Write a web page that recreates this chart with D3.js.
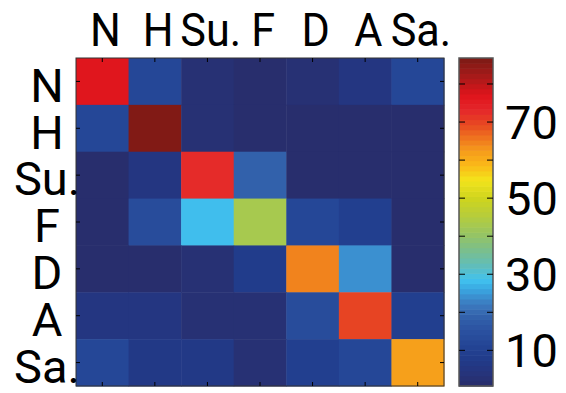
<!DOCTYPE html>
<html>
<head>
<meta charset="utf-8">
<script src="https://cdn.jsdelivr.net/npm/d3@7"></script>
<style>
  html, body { margin: 0; padding: 0; background: #fff; }
  svg { display: block; }
  .lbl { font-family: Roboto, "Open Sans", sans-serif; fill: #000; }
</style>
</head>
<body>
<svg id="chart" width="566" height="393"></svg>
<script>
// Emotion classes (rows = true class, columns = predicted class)
const classes = ["N", "H", "Su.", "F", "D", "A", "Sa."];

// Confusion matrix values (%), one array per true class
const rowN  = [77.2, 12.0,  3.0,  1.5,  2.5,  5.5, 11.5];
const rowH  = [12.0, 86.7,  2.0,  1.0,  1.0,  0.5,  0.5];
const rowSu = [ 0.8,  5.0, 73.0, 18.6,  0.8,  0.8,  1.2];
const rowF  = [ 0.5, 12.8, 28.5, 43.0, 12.5,  9.0,  1.0];
const rowD  = [ 0.5,  0.5,  2.5,  8.5, 64.5, 23.5,  1.0];
const rowA  = [ 5.5,  5.5,  3.0,  3.0, 13.0, 69.5,  9.0];
const rowSa = [12.5,  6.0,  6.0,  3.0,  9.5, 12.5, 62.0];
const matrix = [rowN, rowH, rowSu, rowF, rowD, rowA, rowSa];

// Colour bar ticks and labels
const barTicks = [10, 20, 30, 40, 50, 60, 70, 80];
const barLabels = [10, 30, 50, 70];

// Jet-style colour ramp (position along the map, colour)
const rampPos = [0, 0.036, 0.081, 0.127, 0.173, 0.209, 0.234, 0.264, 0.294, 0.325,
                 0.371, 0.416, 0.462, 0.522, 0.571, 0.629, 0.675, 0.720, 0.751,
                 0.797, 0.842, 0.888, 0.934, 1];
const rampCol = ["#282c6a", "#26337a", "#213b8a", "#244595", "#2c53a2", "#3160aa",
                 "#3a6fb6", "#3b86c8", "#3aa5e0", "#41c2ef", "#63bdb6", "#7bbf8b",
                 "#96c464", "#b7cd3a", "#cdd41f", "#f3e41b", "#fbb819", "#f59a1b",
                 "#f07a1e", "#e84a22", "#e4262a", "#e0141b", "#b01a1a", "#7b1a14"];

const svg = d3.select("#chart");
const box = { x0: 76, x1: 444, y0: 58, y1: 386 };
const bar = { x0: 459, x1: 493 };

const cells = [];
matrix.forEach((row, i) => row.forEach((v, j) => cells.push({ r: classes[i], c: classes[j], v })));
const extent = d3.extent(cells, d => d.v);

// 64-level colour map across the data range
const ramp = d3.scaleLinear().domain(rampPos).range(rampCol).interpolate(d3.interpolateRgb);
const levels = d3.range(64).map(k => ramp((k + 0.5) / 64));
const color = d3.scaleQuantize().domain(extent).range(levels);

const x = d3.scaleBand().domain(classes).range([box.x0, box.x1]);
const y = d3.scaleBand().domain(classes).range([box.y0, box.y1]);

// Matrix cells
svg.append("g").selectAll("rect").data(cells).join("rect")
  .attr("x", d => x(d.c)).attr("y", d => y(d.r))
  .attr("width", x.bandwidth() + 0.5).attr("height", y.bandwidth() + 0.5)
  .attr("fill", d => color(d.v));

svg.append("rect")
  .attr("x", box.x0).attr("y", box.y0)
  .attr("width", box.x1 - box.x0).attr("height", box.y1 - box.y0)
  .attr("fill", "none").attr("stroke", "#333").attr("stroke-width", 1);

function styleAxis(g) {
  g.select(".domain").remove();
  g.selectAll(".tick line").attr("stroke", "#000").attr("stroke-width", 1);
}

// Top axis with class labels (slightly condensed)
const topAxis = svg.append("g").attr("transform", `translate(0,${box.y0})`)
  .call(d3.axisTop(x).tickSize(-4).tickPadding(12))
  .call(styleAxis);
topAxis.selectAll("text").attr("class", "lbl").attr("font-size", 47)
  .attr("dy", "0").attr("y", -12).attr("x", 3.5).attr("transform", "scale(0.92,1)");

// Left axis with class labels
const leftAxis = svg.append("g").attr("transform", `translate(${box.x0},0)`)
  .call(d3.axisLeft(y).tickSize(-4))
  .call(styleAxis);
leftAxis.selectAll("text").attr("class", "lbl").attr("font-size", 47)
  .attr("text-anchor", "middle").attr("x", 47 - box.x0).attr("dy", "0.43em");

// Bottom and right tick marks only
svg.append("g").attr("transform", `translate(0,${box.y1})`)
  .call(d3.axisBottom(x).tickSize(-4).tickFormat(""))
  .call(styleAxis);
svg.append("g").attr("transform", `translate(${box.x1},0)`)
  .call(d3.axisRight(y).tickSize(-4).tickFormat(""))
  .call(styleAxis);

// Colour bar
const yc = d3.scaleLinear().domain(extent).range([box.y1, box.y0]);
const step = (extent[1] - extent[0]) / 64;
svg.append("g").selectAll("rect").data(levels).join("rect")
  .attr("x", bar.x0)
  .attr("y", (c, k) => yc(extent[0] + (k + 1) * step))
  .attr("width", bar.x1 - bar.x0)
  .attr("height", (box.y1 - box.y0) / 64 + 0.6)
  .attr("fill", c => c);

svg.append("rect")
  .attr("x", bar.x0).attr("y", box.y0)
  .attr("width", bar.x1 - bar.x0).attr("height", box.y1 - box.y0)
  .attr("fill", "none").attr("stroke", "#555").attr("stroke-width", 1.5);

const barRight = svg.append("g").attr("transform", `translate(${bar.x1},0)`)
  .call(d3.axisRight(yc).tickValues(barTicks).tickSize(-6).tickPadding(12)
        .tickFormat(v => barLabels.includes(v) ? v : ""))
  .call(styleAxis);
barRight.selectAll("text").attr("class", "lbl").attr("font-size", 47)
  .attr("x", 12).attr("dy", "0.36em");

svg.append("g").attr("transform", `translate(${bar.x0},0)`)
  .call(d3.axisLeft(yc).tickValues(barTicks).tickSize(-6).tickFormat(""))
  .call(styleAxis);
</script>
</body>
</html>
